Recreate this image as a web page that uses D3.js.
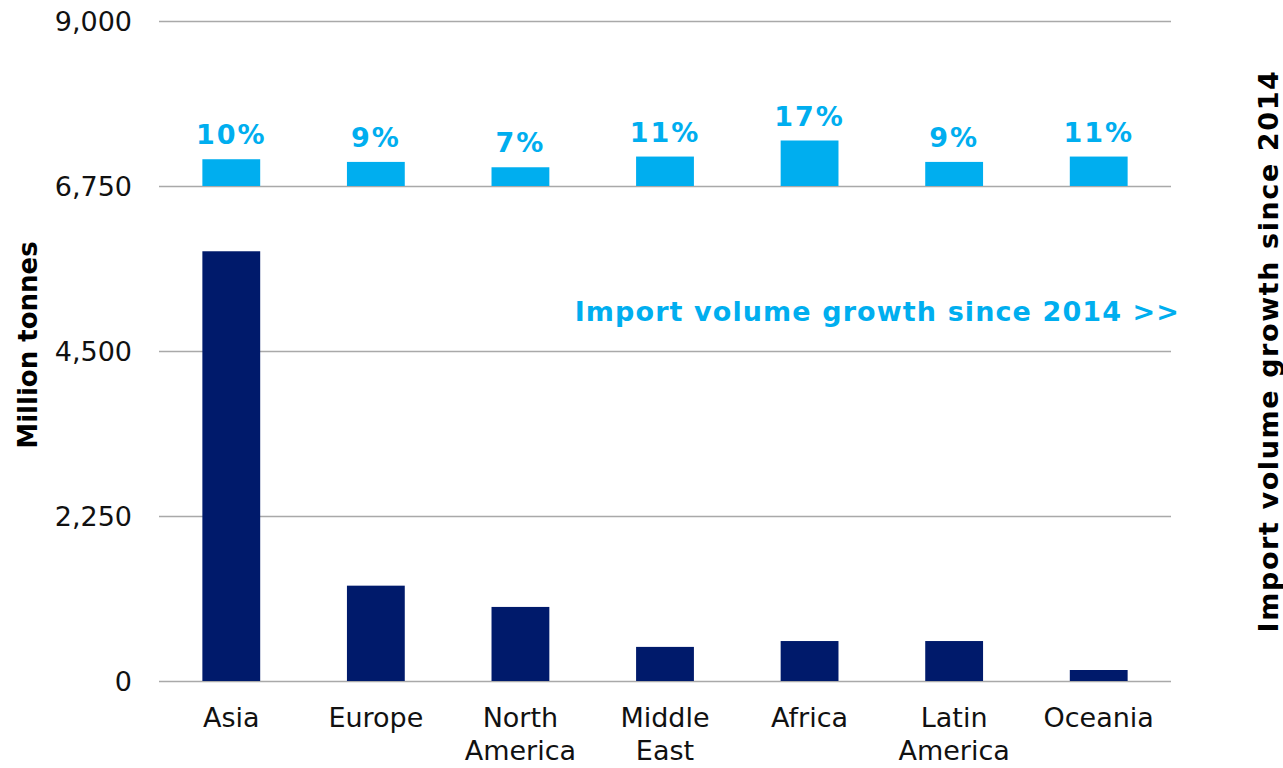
<!DOCTYPE html>
<html>
<head>
<meta charset="utf-8">
<script src="https://cdn.jsdelivr.net/npm/d3@7"></script>
<style>
  html, body { margin: 0; padding: 0; background: #fff; }
  svg { display: block; font-family: "DejaVu Sans", Verdana, sans-serif; }
</style>
</head>
<body>
<svg id="chart" width="1283" height="768"></svg>
<script>
// Regional import volumes (million tonnes) and growth since 2014 (%)
const regions = ["Asia", "Europe", "North America", "Middle East", "Africa", "Latin America", "Oceania"];
const regionLines = [["Asia"], ["Europe"], ["North", "America"], ["Middle", "East"], ["Africa"], ["Latin", "America"], ["Oceania"]];
const volumes = [5860, 1300, 1010, 465, 545, 545, 150];
const growth = [10, 9, 7, 11, 17, 9, 11];
const yTicks = [0, 2250, 4500, 6750, 9000];
const growthBase = 6750; // growth bars sit on this gridline

const navy = "#001a6b";
const cyan = "#00aeef";
const grid = "#a9a9a9";

const svg = d3.select("#chart");
const m = { left: 159, right: 1171, top: 21, bottom: 681 };

const x = d3.scaleBand().domain(regions).range([m.left, m.right]).paddingInner(0.6).paddingOuter(0.3);
const y = d3.scaleLinear().domain([0, 9000]).range([m.bottom, m.top]);

// Secondary scale for growth: 0% at the growth baseline
const yG = d3.scaleLinear().domain([0, 17]).range([y(growthBase), y(growthBase) - 45.5]);

// Gridlines + left tick labels
const yAxis = d3.axisLeft(y).tickValues(yTicks).tickSize(0).tickPadding(0).tickFormat(d3.format(","));
const gy = svg.append("g").attr("transform", `translate(${m.left},0)`).call(yAxis);
gy.select(".domain").remove();
gy.selectAll(".tick line").attr("x2", m.right - m.left).attr("stroke", grid).attr("stroke-width", 1.5);
gy.selectAll(".tick text").attr("x", -27).attr("dy", "0.36em").attr("fill", "#111")
  .attr("font-size", 27).attr("font-family", "DejaVu Sans, Verdana, sans-serif");

// Volume bars
svg.append("g").selectAll("rect").data(volumes).join("rect")
  .attr("x", (d, i) => x(regions[i]))
  .attr("width", x.bandwidth())
  .attr("y", d => y(d))
  .attr("height", d => y(0) - y(d))
  .attr("fill", navy);

// Growth bars
svg.append("g").selectAll("rect").data(growth).join("rect")
  .attr("x", (d, i) => x(regions[i]))
  .attr("width", x.bandwidth())
  .attr("y", d => yG(d))
  .attr("height", d => yG(0) - yG(d))
  .attr("fill", cyan);

// Growth labels
svg.append("g").selectAll("text").data(growth).join("text")
  .attr("x", (d, i) => x(regions[i]) + x.bandwidth() / 2)
  .attr("y", d => yG(d) - 15)
  .attr("text-anchor", "middle")
  .attr("font-size", 27).attr("font-weight", "bold")
  .attr("letter-spacing", 2)
  .attr("fill", cyan)
  .text(d => d + "%");

// Category labels
const xl = svg.append("g").selectAll("text").data(regions).join("text")
  .attr("x", d => x(d) + x.bandwidth() / 2)
  .attr("y", 727)
  .attr("text-anchor", "middle")
  .attr("font-size", 27)
  .attr("fill", "#111");
xl.selectAll("tspan").data((d, i) => regionLines[i]).join("tspan")
  .attr("x", function () { return d3.select(this.parentNode).attr("x"); })
  .attr("dy", (d, i) => i === 0 ? 0 : 33)
  .text(d => d);

// Inline annotation
svg.append("text")
  .attr("x", 1180).attr("y", 321)
  .attr("text-anchor", "end")
  .attr("font-size", 27).attr("font-weight", "bold")
  .attr("letter-spacing", 1.1)
  .attr("fill", cyan)
  .text("Import volume growth since 2014 >>");

// Axis titles
svg.append("text")
  .attr("transform", `translate(37,${(m.top + m.bottom) / 2 - 6}) rotate(-90)`)
  .attr("text-anchor", "middle")
  .attr("font-size", 26).attr("font-weight", "bold")
  .attr("fill", "#000")
  .text("Million tonnes");

svg.append("text")
  .attr("transform", `translate(1278,${(m.top + m.bottom) / 2}) rotate(-90)`)
  .attr("text-anchor", "middle")
  .attr("font-size", 27).attr("font-weight", "bold")
  .attr("letter-spacing", 1.6)
  .attr("fill", "#000")
  .text("Import volume growth since 2014");
</script>
</body>
</html>
